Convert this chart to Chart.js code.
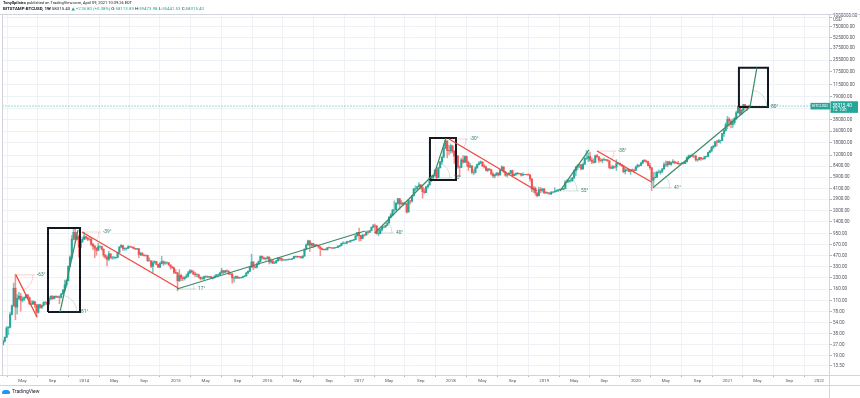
<!DOCTYPE html>
<html>
<head>
<meta charset="utf-8">
<script src="https://cdn.jsdelivr.net/npm/chart.js@4.4.1/dist/chart.umd.min.js"></script>
<style>
  html, body { margin: 0; padding: 0; background: #fff; }
  #wrap { position: relative; width: 860px; height: 398px; overflow: hidden; font-family: Roboto, "DejaVu Sans", sans-serif; }
  #c { position: absolute; left: 0; top: 0; }
  .hdr { position: absolute; left: 3px; white-space: nowrap; color: #131722; line-height: 1; }
  .hdr .v { color: #26a69a; }
  #logo { position: absolute; left: 2px; top: 389px; font-size: 5px; color: #131722; white-space: nowrap; line-height: 1; }
  #logo .cloud { display: inline-block; width: 8px; height: 4px; background: #2196f3; border-radius: 3px 3px 1px 1px; margin-right: 2px; vertical-align: middle; }
</style>
</head>
<body>
<div id="wrap">
  <canvas id="c" width="860" height="398"></canvas>
  <div class="hdr" style="top:1px;font-size:4px"><b>TonySpilotro</b> published on TradingView.com, April 09, 2021 10:39:26 EDT</div>
  <div class="hdr" style="top:7px;font-size:4.4px"><b>BITSTAMP:BTCUSD, 1W</b> 58315.40 <span class="v">▲ +218.80 (+0.38%)</span> O:<span class="v">58113.89</span> H:<span class="v">59473.98</span> L:<span class="v">55441.53</span> C:<span class="v">58315.40</span></div>
  <div id="logo"><span class="cloud"></span>TradingView</div>
</div>
<script>
// ------------------------------------------------------------
//  BTCUSD semanal (Bitstamp), escala logarítmica
//  vela i = semana que empieza el lunes firstWeek + 7*i días
// ------------------------------------------------------------
const firstWeek = '2013-02-18';
const firstOpen = 27;

const closes = [
  30,34,46,47,71,94,165,90,119,128,112,117,122,133,122,100,99,107,97,76,97,89,95,105,105,99,117,127,118,127,124,126,123,138,155,184,210,335,450,800,1000,800,870,620,740,800,
  870,830,800,800,680,640,600,560,630,630,580,480,450,420,500,440,440,440,445,525,625,655,590,595,600,630,625,620,595,585,590,490,510,480,475,475,400,400,335,375,390,355,325,365,390,370,375,375,350,330,320,275,
  270,210,250,228,225,235,245,270,290,280,260,255,255,235,225,225,240,240,237,240,230,233,245,255,255,270,290,275,290,285,262,260,230,230,240,230,232,232,240,245,270,285,325,385,330,325,360,390,460,440,425,430,
  450,385,400,370,375,400,435,430,410,410,410,415,420,420,430,460,455,460,455,440,465,580,665,760,660,700,650,665,655,625,590,570,580,570,610,610,605,600,610,615,640,655,700,705,705,740,735,765,775,790,895,1000,
  900,820,920,915,1010,1000,1050,1170,1230,1220,960,960,1090,1190,1180,1250,1350,1640,1750,2050,2050,2550,2950,2500,2580,2480,2510,1920,2750,2730,3250,4050,4080,4350,4600,4200,3700,3600,4300,4600,5650,6000,6150,7350,5850,8000,9700,11300,15000,19000,13900,13800,
  16200,13600,11600,11700,8200,8100,10300,9600,11500,9500,8200,8500,6900,6900,8000,8900,9300,9650,8500,8200,7350,7700,7500,6500,6150,6350,6750,6350,7400,8200,7000,6300,6400,6700,7300,6200,6500,6700,6600,6600,6300,6400,6450,6400,6350,5600,4000,4150,3550,3250,3950,3850,4050,
  3550,3600,3550,3450,3650,3650,3750,3850,3950,4000,3980,4100,5050,5150,5300,5300,5750,7250,8150,8700,8800,7700,8950,10800,10800,11500,10200,9800,9500,11800,11400,10200,10100,10400,10400,10300,10000,8050,7900,8300,8200,9200,9200,8800,8500,7050,7400,7500,7100,7500,7400,7350,
  8200,8700,8600,9350,10150,9900,9700,8550,8000,5350,5800,5900,6900,6900,7150,7700,8850,8750,9700,8900,9450,9750,9400,9300,9050,9100,9250,9150,9700,11100,11700,11900,11650,11650,10300,10350,11100,10750,10650,11400,11500,13100,13800,15500,16000,18400,18200,19150,19200,24000,26500,32200,
  38200,36000,32300,34300,39200,47200,57500,45200,51000,61200,57300,55800,58113.89,58315.40
];
const highs = [
  31,34.5,48,48,76,96,195,260,135,145,140,125,125,135,135,125,110,111,108,98,98,99,97,107,108,107,120,130,131,128,130,128,130,140,160,215,215,340,470,900,1163,1130,1000,900,760,860,
  1000,890,860,850,830,700,660,610,700,650,640,590,490,470,540,500,460,460,450,530,630,675,660,610,605,650,640,630,625,600,595,595,530,520,490,485,480,440,400,400,400,390,360,380,460,400,390,385,380,350,335,320,
  300,275,300,260,245,240,260,285,300,298,290,275,265,260,240,238,245,248,245,242,242,235,246,257,260,275,315,295,295,298,290,270,268,240,245,245,235,236,242,250,275,290,335,495,390,340,375,400,470,470,450,440,
  460,455,425,400,390,405,445,440,440,420,420,420,425,425,432,462,468,465,462,458,470,590,690,780,770,710,700,680,680,660,630,600,585,590,610,625,612,610,615,620,645,660,710,740,720,755,745,770,780,795,920,1000,
  1150,910,930,930,1040,1060,1055,1190,1290,1300,1250,1120,1100,1200,1210,1260,1360,1650,1850,2100,2760,2600,2990,2980,2800,2600,2650,2550,2900,2800,3300,4100,4480,4370,4950,4700,4400,4100,4400,4620,5850,6100,6200,7600,7900,8100,9750,11400,17200,19666,19000,16500,
  17200,16500,14000,12000,11800,8500,10900,11800,11700,11700,9900,9200,8500,7500,8400,9000,9750,9990,9700,8850,8500,7800,7750,7500,6850,6500,6850,6800,7600,8500,8250,7150,6600,6850,7400,7400,6600,6800,6900,6700,6650,6800,6500,6480,6600,6400,5600,4400,4300,3600,4300,4250,4100,
  4100,3700,3650,3550,3700,3700,4200,3900,3950,4050,4100,4150,5300,5450,5400,5650,5900,7500,8400,8800,9100,8850,9300,11200,13880,12950,13200,11100,10650,12000,12300,11450,10950,10650,10900,10450,10350,10050,8500,8650,8400,10350,9550,9400,8850,8500,7850,7750,7550,7500,7700,7650,
  8450,9000,8750,9600,10200,10500,10200,9950,9200,8100,6900,6950,7200,7450,7300,7800,9450,10000,9850,9900,9600,10400,9950,9600,9800,9250,9450,9350,9700,11400,12100,12100,12450,11750,12050,10600,11150,11100,10950,11500,11700,13200,14000,15950,16500,18800,19400,19900,19400,24200,28400,34000,
  41950,40100,37850,38500,40950,49700,58350,57500,52600,61800,61200,58700,60200,59473.98
];
const lows = [
  26.5,29,34,37,46,70,92,60,72,115,79,106,111,120,115,97,95,98,89,66,74,86,86,93,97,97,99,113,115,117,122,122,100,120,136,150,170,210,330,420,780,720,780,450,600,720,
  790,800,760,770,650,570,440,480,550,600,560,450,430,340,400,430,420,425,430,440,520,610,560,560,565,590,610,610,585,575,570,440,470,470,465,465,390,395,320,275,370,350,320,320,360,345,355,360,345,305,310,265,
  265,152,205,210,210,215,230,235,265,270,255,240,240,230,215,220,215,232,232,233,225,222,228,242,240,250,265,265,275,280,258,255,195,200,225,225,225,226,230,240,245,265,282,320,300,315,315,355,385,420,420,410,
  425,360,370,365,365,370,395,405,395,405,405,410,410,415,418,428,445,440,448,435,436,460,570,665,540,610,610,640,650,600,470,570,565,565,565,600,600,590,595,605,615,625,645,690,690,695,725,725,755,770,785,880,
  750,760,810,880,915,940,990,1050,1170,975,940,890,950,1040,1150,1180,1240,1350,1600,1700,1950,2050,2450,2100,2450,2350,2450,1850,1920,2500,2650,3200,3800,3950,4300,4000,3000,3500,3600,4150,4550,5100,5450,6100,5500,5850,7900,9000,11000,14800,11000,12200,
  12800,12800,9200,10000,7800,6000,8000,9300,9400,8400,7300,8000,6600,6400,6700,7800,8700,9100,8300,7900,7200,7050,7350,6300,5800,5750,6250,6100,6300,7350,6900,6100,5900,6300,6650,6100,6200,6250,6450,6500,6100,6250,6380,6300,6300,5200,3700,3600,3300,3130,3220,3550,3650,
  3500,3500,3450,3400,3350,3550,3650,3700,3700,3850,3950,3950,4100,4950,5000,5050,5150,5700,6200,7500,8000,7450,7550,8950,10350,9700,9850,9100,9250,9400,11200,9500,9800,9350,10050,9950,9850,7750,7700,7750,7900,7300,8950,8700,8350,6800,6550,7300,7050,6450,7200,6850,
  7350,8100,8250,8550,9150,9700,9300,8450,7650,3850,4450,5700,5850,6750,6500,6850,7650,8350,8250,8800,8650,9250,9050,9150,8950,8950,9050,9050,9150,9650,10550,11150,11350,11100,9900,9850,10250,10150,10400,10550,11200,11400,12900,13300,14800,15800,16200,18000,17600,19000,22000,26000,
  28000,30400,28800,29250,32300,37350,46200,43000,44900,48900,53200,50300,55500,55441.53
];

// eje temporal: primera barra de cada periodo
const xTickDates = ['2013-05-06','2013-09-02','2014-01-06','2014-05-05','2014-09-01','2015-01-05','2015-05-04','2015-09-07',
  '2016-01-04','2016-05-02','2016-09-05','2017-01-02','2017-05-01','2017-09-04','2018-01-01','2018-05-07','2018-09-03',
  '2019-01-07','2019-05-06','2019-09-02','2020-01-06','2020-05-04','2020-09-07','2021-01-04','2021-05-03','2021-09-06','2022-01-03'];
const xTickLabels = ['May','Sep','2014','May','Sep','2015','May','Sep','2016','May','Sep','2017','May','Sep','2018','May','Sep',
  '2019','May','Sep','2020','May','Sep','2021','May','Sep','2022'];
const yTicks = [13.5,19,27,38,54,78,110,160,230,330,470,670,950,1400,2000,2900,4100,5900,8400,12000,18000,26000,38000,54000,79000,115000,175000,255000,375000,525000,750000,1000000];
const lastPrice = 58315.40;

// dibujos "trend angle": [semana, precio] inicio -> fin
const redLines = [
  { a: [7.3, 254],    b: [19.3, 65],    txt: '-63°' },
  { a: [44.8, 1010],  b: [99.3, 166],   txt: '-39°' },
  { a: [253.0, 20200],b: [302.9, 3790], txt: '-30°' },
  { a: [337.0, 13700],b: [368.2, 5030], txt: '-38°' }
];
const greenLines = [
  { a: [32.3, 76.8],  b: [42.5, 1077],   txt: '81°' },
  { a: [98.7, 161],   b: [205.3, 1043],  txt: '17°' },
  { a: [211.0, 979],  b: [243.9, 6330],  txt: '40°' },
  { a: [243.9, 5750], b: [251.3, 20780], txt: '75°' },
  { a: [316.0, 3790], b: [332.4, 14190], txt: '55°' },
  { a: [368.7, 4200], b: [423.8, 56700], txt: '41°' },
  { a: [423.8, 56700],b: [427.7, 200700],txt: '80°' }
];
// rectángulos: [semana0, precio0, semana1, precio1]
const boxes = [
  [25.5, 76.8, 43.65, 1148],
  [242.2, 5390, 256.97, 20780],
  [417.5, 56700, 434.0, 200700]
];

const UP = '#26a69a', DN = '#ef5350', RED = '#f0443a', GRN = '#3a8a66';
const FONT = 'Roboto';
const wk = d => (Date.parse(d) - Date.parse(firstWeek)) / 6048e5;
const xTicks = xTickDates.map(wk);

const opens = closes.map((c, i) => i ? closes[i - 1] : firstOpen);
const colors = closes.map((c, i) => c >= opens[i] ? UP : DN);
const wickColors = colors.map(c => c + 'a0');

const lineDs = (pts, color, width) => ({
  type: 'line',
  data: pts.map(p => ({ x: p[0], y: p[1] })),
  borderColor: color, borderWidth: width,
  pointRadius: 0, tension: 0, fill: false, order: 0
});

const datasets = [
  {
    label: 'wicks', data: closes.map((c, i) => ({ x: i, y: [lows[i], highs[i]] })),
    backgroundColor: wickColors, barThickness: 0.9, grouped: false, order: 2
  },
  {
    label: 'bodies', data: closes.map((c, i) => ({ x: i, y: [opens[i], c] })),
    backgroundColor: colors, barThickness: 1.4, grouped: false, order: 1
  },
  lineDs([[-0.6, lastPrice], [468.6, lastPrice]], 'rgba(38,166,154,0.45)', 1),
  ...redLines.map(l => lineDs([l.a, l.b], RED, 1.2)),
  ...greenLines.map(l => lineDs([l.a, l.b], GRN, 1.2)),
  ...boxes.map(b => lineDs([[b[0], b[1]], [b[2], b[1]], [b[2], b[3]], [b[0], b[3]], [b[0], b[1]]], '#131722', 2))
];
datasets[2].borderDash = [2, 1];
datasets[2].order = 3;

// arcos de ángulo, etiquetas, marco y etiqueta de precio
const overlayPlugin = {
  id: 'overlay',
  afterDatasetsDraw(chart) {
    const { ctx, chartArea: ca, scales: { x, y } } = chart;
    ctx.save();
    // ángulos
    const all = redLines.map(l => [l, RED]).concat(greenLines.map(l => [l, GRN]));
    all.forEach(([l, col]) => {
      const sx = x.getPixelForValue(l.a[0]), sy = y.getPixelForValue(l.a[1]);
      const ex = x.getPixelForValue(l.b[0]), ey = y.getPixelForValue(l.b[1]);
      const ang = Math.atan2(ey - sy, ex - sx);
      ctx.globalAlpha = 0.3;
      ctx.strokeStyle = col; ctx.lineWidth = 0.8;
      ctx.beginPath(); ctx.moveTo(sx, sy); ctx.lineTo(sx + 19, sy); ctx.stroke();
      ctx.beginPath(); ctx.arc(sx, sy, 17, 0, ang, ang < 0); ctx.stroke();
      ctx.globalAlpha = 1;
      ctx.fillStyle = '#2e7d62';
      ctx.font = `4.8px ${FONT}`;
      ctx.textBaseline = 'middle'; ctx.textAlign = 'left';
      ctx.fillText(l.txt, sx + 21, sy);
    });
    // marco
    ctx.strokeStyle = '#d1d4dc'; ctx.lineWidth = 1;
    ctx.beginPath();
    ctx.moveTo(0, ca.top - 0.5); ctx.lineTo(860, ca.top - 0.5);
    ctx.moveTo(0, ca.bottom + 0.5); ctx.lineTo(860, ca.bottom + 0.5);
    ctx.moveTo(0, 385.5); ctx.lineTo(860, 385.5);
    ctx.moveTo(ca.left + 0.5, ca.top); ctx.lineTo(ca.left + 0.5, ca.bottom);
    ctx.moveTo(ca.right + 0.5, ca.top); ctx.lineTo(ca.right + 0.5, 398);
    ctx.stroke();
    // etiqueta de precio
    const py = y.getPixelForValue(lastPrice);
    ctx.fillStyle = UP;
    ctx.fillRect(810.5, py - 3.2, 19.5, 6.6);
    ctx.fillRect(830.5, py - 4.8, 27.5, 11.6);
    ctx.fillStyle = '#fff';
    ctx.font = `4.2px ${FONT}`;
    ctx.textAlign = 'center';
    ctx.fillText('BTCUSD', 820.2, py + 0.2);
    ctx.textAlign = 'left';
    ctx.font = `4.6px ${FONT}`;
    ctx.fillText(lastPrice.toFixed(2), 832.5, py - 0.6);
    ctx.fillText('12 10h', 832.5, py + 4.2);
    ctx.restore();
  }
};

new Chart(document.getElementById('c'), {
  type: 'bar',
  data: { datasets },
  options: {
    responsive: false, animation: false, events: [],
    layout: { padding: { top: 15, left: 2, right: 0, bottom: 0 } },
    plugins: { legend: { display: false }, tooltip: { enabled: false } },
    scales: {
      x: {
        type: 'linear', min: -0.6, max: 468.6, offset: false,
        afterBuildTicks: s => { s.ticks = xTicks.map(v => ({ value: v })); },
        afterFit: s => { s.height = 23; },
        grid: { color: '#eef1f6', tickLength: 2, tickColor: '#b2b5be' },
        border: { display: false },
        ticks: {
          autoSkip: false, maxRotation: 0, padding: 1, color: '#50535e',
          font: { family: FONT, size: 4.4 },
          callback: (v, i) => xTickLabels[i]
        }
      },
      y: {
        type: 'logarithmic', position: 'right', min: 10.1, max: 1.095e6,
        afterBuildTicks: s => { s.ticks = yTicks.map(v => ({ value: v })); },
        afterFit: s => { s.width = 31; },
        grid: { color: '#eef1f6', tickLength: 3, tickColor: '#b2b5be' },
        border: { display: false },
        ticks: {
          autoSkip: false, padding: 1, color: '#50535e',
          font: { family: FONT, size: 4.6, lineHeight: 1 },
          callback: v => v === 1000000 ? ['1000000.00', 'USD'] : Number(v).toFixed(2)
        }
      }
    }
  },
  plugins: [overlayPlugin]
});
</script>
</body>
</html>
